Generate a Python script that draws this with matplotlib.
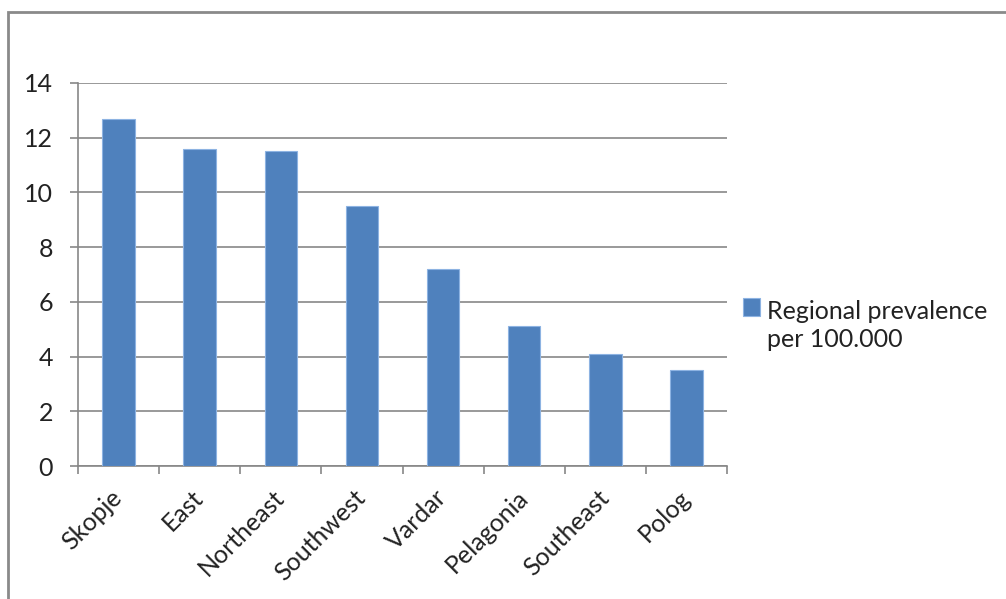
import matplotlib.pyplot as plt
import matplotlib.transforms as mtransforms
from matplotlib.patches import Rectangle

regions = ["Skopje", "East", "Northeast", "Southwest", "Vardar",
           "Pelagonia", "Southeast", "Polog"]
prevalence = [12.7, 11.6, 11.5, 9.5, 7.2, 5.1, 4.1, 3.5]
yticks = [0, 2, 4, 6, 8, 10, 12, 14]
series_label = "Regional prevalence\nper 100.000"

plt.rcParams['font.family'] = ['Lato', 'DejaVu Sans']

W, H = 1006, 599
fig = plt.figure(figsize=(W / 100, H / 100), dpi=100)
ax = fig.add_axes([78 / W, 1 - 466 / H, (727 - 78) / W, (466 - 83) / H])

bar_color = "#4F81BD"
grid_color = "#878787"
fs = 18

x = list(range(len(regions)))
ax.bar(x, prevalence, width=0.4, color=bar_color, edgecolor="#8DB3E2",
       linewidth=0.8, zorder=3)

ax.set_xlim(-0.5, len(regions) - 0.5)
ax.set_ylim(0, 14)
ax.set_yticks(yticks)
ax.set_yticklabels([str(v) for v in yticks], fontsize=fs, color="#222222")
ax.yaxis.grid(True, color=grid_color, linewidth=1.2, zorder=0)

# category boundaries carry the tick marks, labels sit at the centres
ax.set_xticks([i - 0.5 for i in range(len(regions) + 1)])
ax.set_xticklabels([])
ax.set_xticks(x, minor=True)
ax.set_xticklabels(regions, minor=True, rotation=45, ha="right",
                   va="center", rotation_mode="anchor", fontsize=fs,
                   color="#222222")
shift = mtransforms.ScaledTranslation(8 / 72, 0, fig.dpi_scale_trans)
for lab in ax.get_xticklabels(minor=True):
    lab.set_transform(lab.get_transform() + shift)
ax.tick_params(axis="x", which="minor", length=0, pad=20)
ax.tick_params(axis="x", which="major", length=6, color=grid_color, width=1.2)
ax.tick_params(axis="y", length=6, color=grid_color, width=1.2, pad=12)

for side in ["top", "right"]:
    ax.spines[side].set_visible(False)
for side in ["left", "bottom"]:
    ax.spines[side].set_color(grid_color)
    ax.spines[side].set_linewidth(1.2)

# legend: square key beside the first line of a two-line label
key = Rectangle((743 / W, 1 - 316 / H), 17 / W, 18 / H,
                transform=fig.transFigure, facecolor=bar_color,
                edgecolor="#8DB3E2", linewidth=0.8)
fig.patches.append(key)
fig.text(767 / W, 1 - 347 / H, series_label, fontsize=fs, va="baseline",
         ha="left", linespacing=1.25, color="#222222")

# outer chart frame, running off the right and bottom edge like the source
frame = Rectangle((8 / W, -0.05), 1.1, 1 - 12 / H + 0.05,
                  transform=fig.transFigure, fill=False,
                  edgecolor="#8A8A8A", linewidth=2, clip_on=False)
fig.patches.append(frame)

fig.savefig("out.png", dpi=100)
